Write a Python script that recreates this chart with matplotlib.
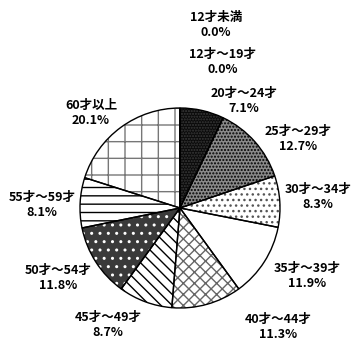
import matplotlib
matplotlib.use("Agg")
import matplotlib.pyplot as plt

plt.rcParams['font.family'] = ['Noto Sans CJK JP', 'DejaVu Sans']

categories = ["12才未満", "12才～19才", "20才～24才", "25才～29才", "30才～34才",
              "35才～39才", "40才～44才", "45才～49才", "50才～54才", "55才～59才", "60才以上"]
values = [0.0, 0.0, 7.1, 12.7, 8.3, 11.9, 11.3, 8.7, 11.8, 8.1, 20.1]

# styles
faces = ['white', 'white', '#0a0a0a', '#8a8a8a', 'white', 'white', 'white', 'white', '#3a3a3a', 'white', 'white']
hatches = [None, None, '......', '.....', '...', None, 'xxx', '\\\\\\', '..', '--', '+']
hcolors = ['black', 'black', '#3a3a3a', 'black', '#555555', 'black', '#666666', 'black', 'white', 'black', '#777777']

# label positions (pixel coords of the reference)
label_px = [(216, 25), (223, 62), (244, 101), (298, 139), (318, 197), (307, 276), (278, 327),
            (108, 325), (58, 278), (42, 205), (91, 113)]

fig = plt.figure(figsize=(3.54, 3.43), dpi=100)
ax = fig.add_axes([0, 0, 1, 1])
cx, cy, R = 180, 208, 100

wedges, _ = ax.pie(values, startangle=90, counterclock=False, radius=1.0,
                   wedgeprops=dict(linewidth=0))
for w, fc, h, hc in zip(wedges, faces, hatches, hcolors):
    w.set_facecolor(fc)
    w.set_edgecolor(hc)
    if h:
        w.set_hatch(h)
ax.pie(values, startangle=90, counterclock=False, radius=1.0,
       wedgeprops=dict(fill=False, edgecolor='black', linewidth=1.0))

for cat, v, (px, py) in zip(categories, values, label_px):
    ax.text((px - cx) / R, (cy - py) / R, f"{cat}\n{v:.1f}%", ha='center', va='center',
            fontsize=9, fontweight='bold', linespacing=1.25)

ax.set_xlim(-cx / R, (354 - cx) / R)
ax.set_ylim(-(343 - cy) / R, cy / R)
ax.set_aspect('equal')
ax.axis('off')
fig.savefig('out.png', dpi=100)
